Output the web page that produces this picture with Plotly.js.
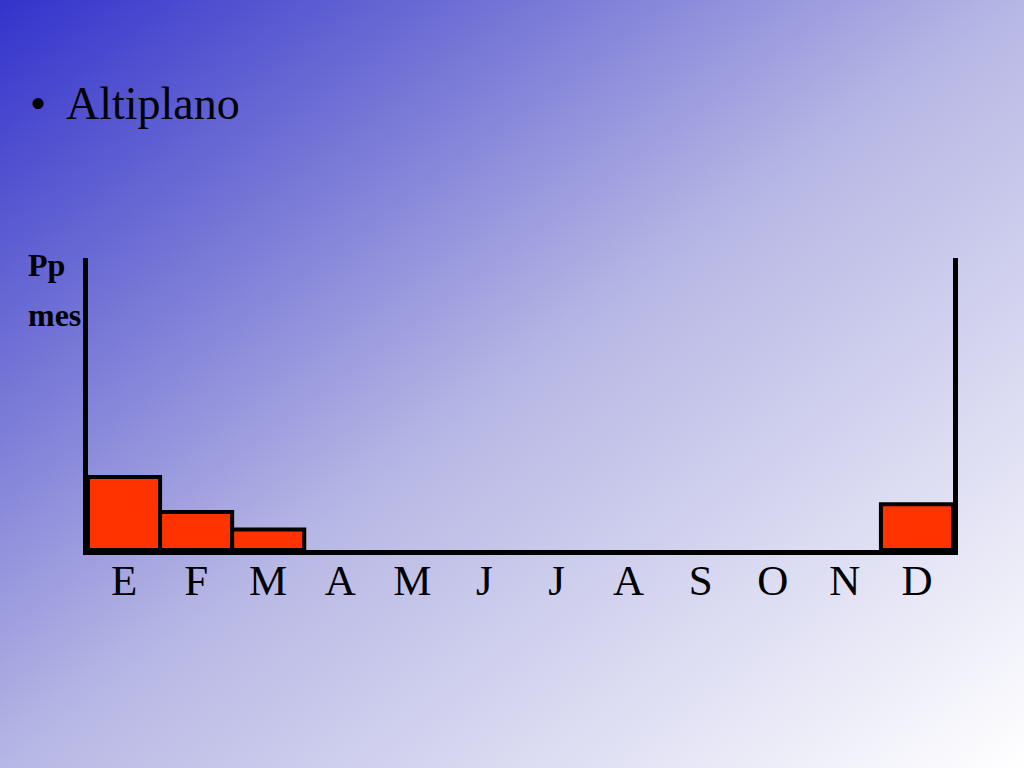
<!DOCTYPE html>
<html>
<head>
<meta charset="utf-8">
<script src="https://cdn.plot.ly/plotly-3.0.1.min.js"></script>
<style>
  html, body { margin: 0; padding: 0; width: 1024px; height: 768px; overflow: hidden; }
  body { background: linear-gradient(to bottom right, #3333cc 0%, #7474d6 25%, #b7b7e5 50%, #ffffff 100%); }
  #chart { width: 1024px; height: 768px; }
</style>
</head>
<body>
<div id="chart"></div>
<script>
// Data
const months = ["E", "F", "M", "A", "M ", "J", "J ", "A ", "S", "O", "N", "D"];
const monthLabels = ["E", "F", "M", "A", "M", "J", "J", "A", "S", "O", "N", "D"];
const precip = [75, 39, 21, 0, 0, 0, 0, 0, 0, 0, 0, 47];
const yMax = 300;
const titleText = "Altiplano";
const yLabelTop = "Pp";
const yLabelBottom = "mes";

const W = 1024, H = 768;
const M = { l: 88, r: 71, t: 258, b: 218 };
const PW = W - M.l - M.r, PH = H - M.t - M.b;
const px = x => (x - M.l) / PW;
const py = y => (H - M.b - y) / PH;
const serif = "Liberation Serif, Times New Roman, serif";

const trace = {
  type: "bar",
  x: months,
  y: precip,
  marker: {
    color: "#ff3300",
    line: { color: "#000000", width: precip.map(v => (v > 0 ? 4 : 0)) }
  },
  hoverinfo: "skip"
};

const layout = {
  width: W, height: H,
  margin: M,
  paper_bgcolor: "rgba(0,0,0,0)",
  plot_bgcolor: "rgba(0,0,0,0)",
  bargap: 0,
  showlegend: false,
  xaxis: {
    type: "category",
    tickvals: months,
    ticktext: monthLabels,
    showgrid: false, zeroline: false,
    showline: true, linecolor: "#000", linewidth: 5,
    ticks: "",
    ticklabelstandoff: -12,
    tickfont: { family: serif, size: 43, color: "#000" },
    fixedrange: true
  },
  yaxis: {
    range: [0, yMax],
    showgrid: false, zeroline: false,
    showline: true, mirror: true, linecolor: "#000", linewidth: 5,
    showticklabels: false, ticks: "",
    fixedrange: true
  },
  annotations: [
    { text: "•", xref: "paper", yref: "paper", x: px(28), y: py(103), xanchor: "left", yanchor: "middle",
      showarrow: false, font: { family: serif, size: 46, color: "#000" } },
    { text: titleText, xref: "paper", yref: "paper", x: px(64), y: py(103), xanchor: "left", yanchor: "middle",
      showarrow: false, font: { family: serif, size: 46, color: "#000" } },
    { text: "<b>" + yLabelTop + "</b>", xref: "paper", yref: "paper", x: px(26), y: py(265), xanchor: "left", yanchor: "middle",
      showarrow: false, font: { family: serif, size: 32, color: "#000" } },
    { text: "<b>" + yLabelBottom + "</b>", xref: "paper", yref: "paper", x: px(26), y: py(315), xanchor: "left", yanchor: "middle",
      showarrow: false, font: { family: serif, size: 32, color: "#000" } }
  ]
};

Plotly.newPlot("chart", [trace], layout, { staticPlot: true, displayModeBar: false });
</script>
</body>
</html>
